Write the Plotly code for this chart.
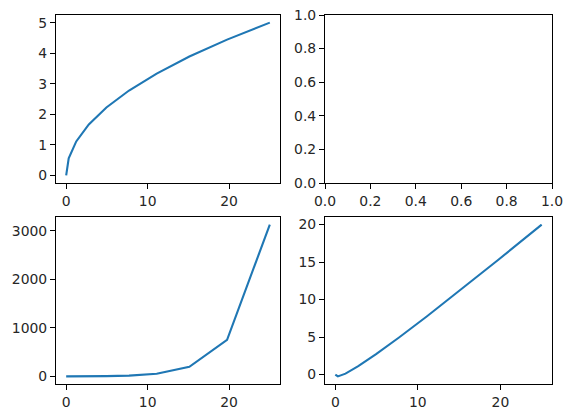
import plotly.graph_objects as go

# Data
x_vals = [0, 0.309, 1.235, 2.778, 4.938, 7.716, 11.111, 15.123, 19.753, 25.0]
sqrt_vals = [0, 0.556, 1.111, 1.667, 2.222, 2.778, 3.333, 3.889, 4.444, 5.0]
pow_vals = [1.0, 0.721, 1.124, 2.345, 5.89, 17.1, 55.2, 197.0, 753.0, 3125.0]
diff_vals = [0, -0.247, 0.123, 1.111, 2.716, 4.938, 7.778, 11.235, 15.309, 20.0]
empty_vals = []

W, H = 571, 418
blue = "#1f77b4"

def xd(a, b):
    return [a / W, b / W]

def yd(top, bottom):
    return [(H - bottom) / H, (H - top) / H]

fig = go.Figure()
fig.add_trace(go.Scatter(x=x_vals, y=sqrt_vals, mode="lines", line=dict(color=blue, width=2.1), xaxis="x", yaxis="y"))
fig.add_trace(go.Scatter(x=empty_vals, y=empty_vals, mode="lines", line=dict(color=blue, width=2.1), xaxis="x2", yaxis="y2"))
fig.add_trace(go.Scatter(x=x_vals, y=pow_vals, mode="lines", line=dict(color=blue, width=2.1), xaxis="x3", yaxis="y3"))
fig.add_trace(go.Scatter(x=x_vals, y=diff_vals, mode="lines", line=dict(color=blue, width=2.1), xaxis="x4", yaxis="y4"))

axis_common = dict(showline=True, mirror=True, linecolor="black", linewidth=1.1,
                   ticks="outside", ticklen=5, tickwidth=1.1, tickcolor="black",
                   showgrid=False, zeroline=False, automargin=False,
                   tickfont=dict(family="DejaVu Sans", size=13.9, color="#262626"))

fig.update_layout(
    width=W, height=H,
    margin=dict(l=0, r=0, t=0, b=0, autoexpand=False),
    paper_bgcolor="white", plot_bgcolor="white",
    showlegend=False,
    xaxis=dict(domain=xd(56, 280), anchor="y", range=[-1.25, 26.25], tickvals=[0, 10, 20], **axis_common),
    yaxis=dict(domain=yd(15, 183), anchor="x", range=[-0.25, 5.25], tickvals=[0, 1, 2, 3, 4, 5], **axis_common),
    xaxis2=dict(domain=xd(325, 552), anchor="y2", range=[0, 1], tickvals=[0, 0.2, 0.4, 0.6, 0.8, 1.0],
                ticktext=["0.0", "0.2", "0.4", "0.6", "0.8", "1.0"], **axis_common),
    yaxis2=dict(domain=yd(15, 183), anchor="x2", range=[0, 1], tickvals=[0, 0.2, 0.4, 0.6, 0.8, 1.0],
                ticktext=["0.0", "0.2", "0.4", "0.6", "0.8", "1.0"], **axis_common),
    xaxis3=dict(domain=xd(56, 280), anchor="y3", range=[-1.25, 26.25], tickvals=[0, 10, 20], **axis_common),
    yaxis3=dict(domain=yd(217, 384), anchor="x3", range=[-155.5, 3281], tickvals=[0, 1000, 2000, 3000], **axis_common),
    xaxis4=dict(domain=xd(325, 552), anchor="y4", range=[-1.25, 26.25], tickvals=[0, 10, 20], **axis_common),
    yaxis4=dict(domain=yd(217, 384), anchor="x4", range=[-1.26, 21.01], tickvals=[0, 5, 10, 15, 20], **axis_common),
)

fig.write_html("out.html", config={"displayModeBar": False},
               post_script="document.body.style.margin='0';")
